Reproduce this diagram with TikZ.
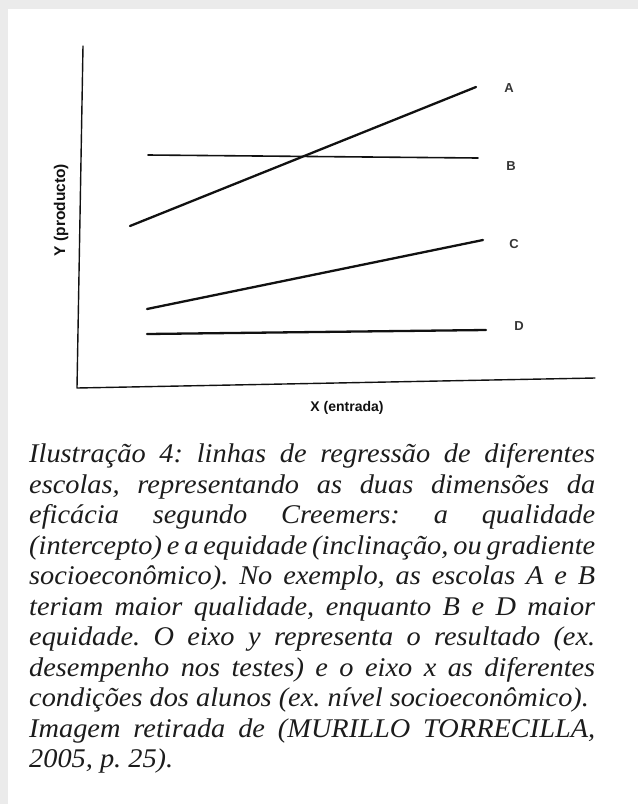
\documentclass[tikz,border=0pt]{standalone}
\usepackage{fontspec}
\setmainfont{Liberation Serif}[FakeStretch=1.05]
\newfontfamily\labfont{Liberation Sans}
\definecolor{framegray}{HTML}{EBEBEB}
\definecolor{ink}{HTML}{111111}
\definecolor{captionink}{HTML}{1C1C1C}
\frenchspacing
\begin{document}
\begin{tikzpicture}[x=1pt,y=-1pt,
  axisline/.style={draw=ink,line width=1.4pt,line cap=round,line join=round},
  regline/.style={draw=ink,line width=2.3pt,line cap=round},
  thinreg/.style={draw=ink,line width=1.6pt,line cap=round},
  schoollabel/.style={font=\labfont\bfseries\fontsize{13pt}{15pt}\selectfont,text=ink!85,inner sep=0pt},
  axislabel/.style={font=\labfont\bfseries,text=ink,inner sep=0pt},
  capline/.style={anchor=base west,inner sep=0pt,text=captionink,
    font=\itshape\fontsize{27pt}{30.5pt}\selectfont}]
\useasboundingbox (0,0) rectangle (638,804);
\fill[framegray] (0,0) rectangle (638,804);
\fill[white] (8,9) rectangle (638,804);

% axes
\coordinate (ytop) at (83,46);
\coordinate (orig) at (77,388);
\coordinate (xend) at (595,378);
\draw[axisline] (ytop) -- (orig) -- (xend);

% regression lines
\coordinate (a1) at (130,226); \coordinate (a2) at (476,87);
\coordinate (b1) at (148,155); \coordinate (b2) at (478,158);
\coordinate (c1) at (147,309); \coordinate (c2) at (483,240);
\coordinate (d1) at (147,334); \coordinate (d2) at (486,330);
\draw[regline] (a1) -- (a2);
\draw[thinreg] (b1) -- (b2);
\draw[regline] (c1) -- (c2);
\draw[regline] (d1) -- (d2);

\node[schoollabel] (labA) at (509,88) {A};
\node[schoollabel] (labB) at (511,166) {B};
\node[schoollabel] (labC) at (514,244) {C};
\node[schoollabel] (labD) at (519,326) {D};

\node[axislabel,rotate=90,font=\labfont\bfseries\fontsize{15.5pt}{17pt}\selectfont] (ylab) at (61,210) {Y (producto)};
\node[axislabel,font=\labfont\bfseries\fontsize{14pt}{16pt}\selectfont] (xlab) at (347,408) {X (entrada)};

% caption
\node[capline] (cap1) at (29,462.5) {\makebox[566pt][s]{Ilustração 4: linhas de regressão de diferentes}};
\node[capline] (cap2) at (29,493) {\makebox[566pt][s]{escolas, representando as duas dimensões da}};
\node[capline] (cap3) at (29,523.5) {\makebox[566pt][s]{eficácia segundo Creemers: a qualidade}};
\node[capline] (cap4) at (29,554) {\makebox[566pt][s]{(intercepto) e a equidade (inclinação, ou gradiente}};
\node[capline] (cap5) at (29,584.5) {\makebox[566pt][s]{socioeconômico). No exemplo, as escolas A e B}};
\node[capline] (cap6) at (29,615) {\makebox[566pt][s]{teriam maior qualidade, enquanto B e D maior}};
\node[capline] (cap7) at (29,645.5) {\makebox[566pt][s]{equidade. O eixo y representa o resultado (ex.}};
\node[capline] (cap8) at (29,676) {\makebox[566pt][s]{desempenho nos testes) e o eixo x as diferentes}};
\node[capline] (cap9) at (29,706.5) {condições dos alunos (ex. nível socioeconômico).};
\node[capline] (cap10) at (29,737) {\makebox[566pt][s]{Imagem retirada de (MURILLO TORRECILLA,}};
\node[capline] (cap11) at (29,767.5) {2005, p. 25).};
\end{tikzpicture}
\end{document}
